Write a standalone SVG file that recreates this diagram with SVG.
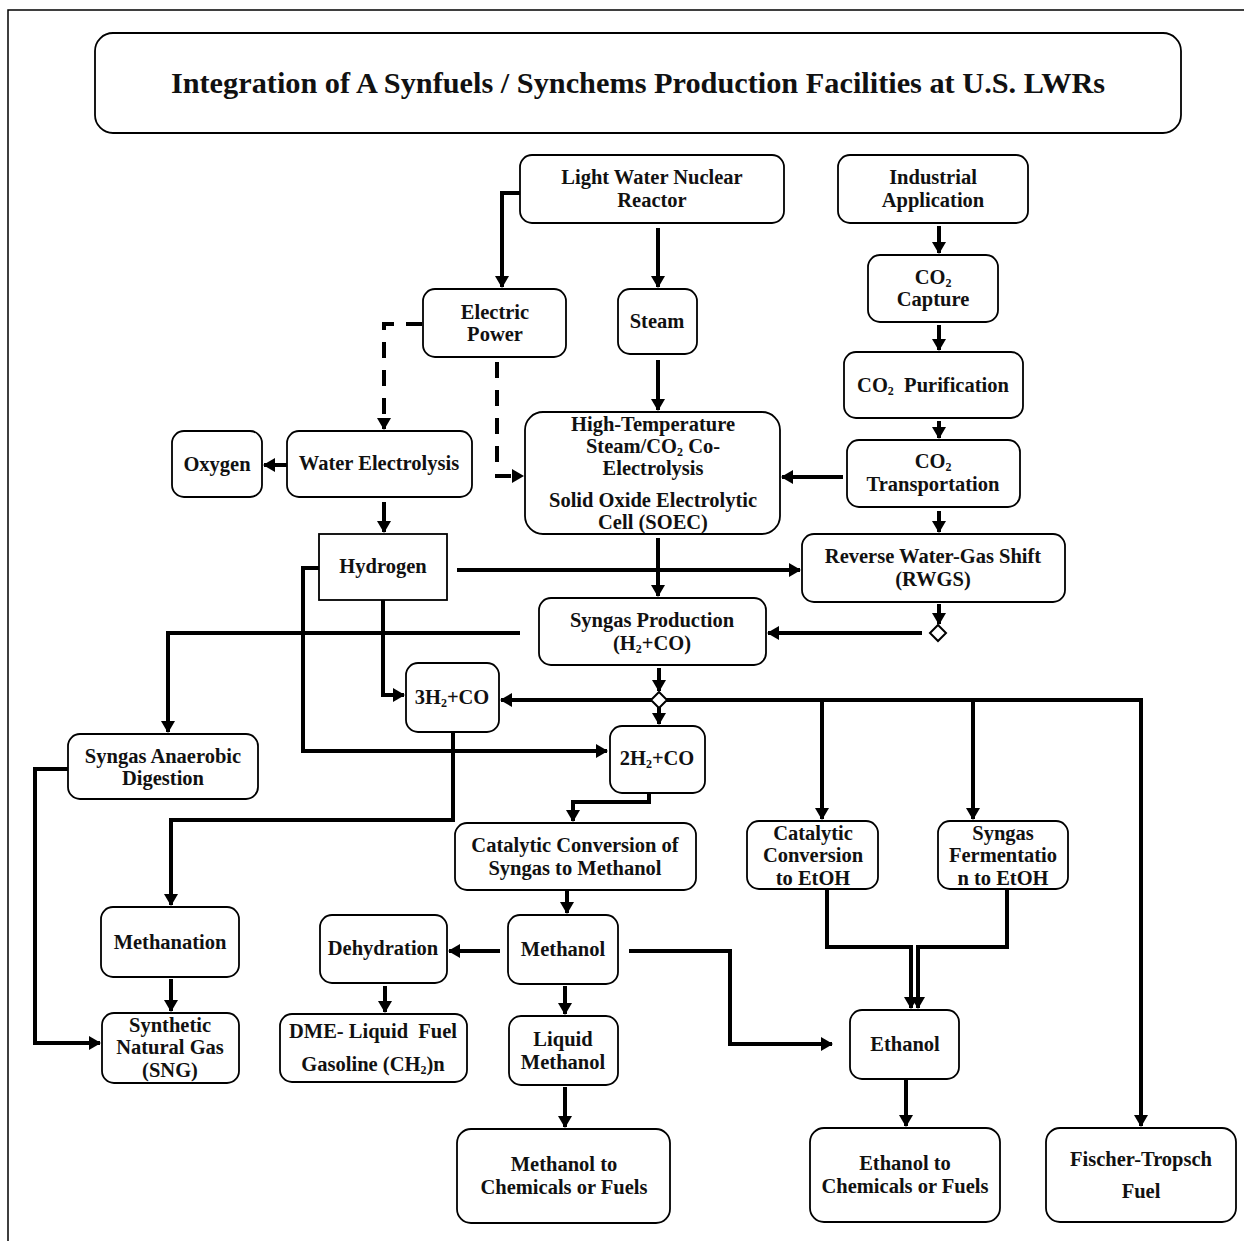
<svg xmlns="http://www.w3.org/2000/svg" width="1244" height="1241" viewBox="0 0 1244 1241">
<style>
.b{fill:#fff;stroke:#000;stroke-width:1.8}
.t{font-family:"Liberation Serif","Times New Roman",serif;font-weight:bold;font-size:20.5px;text-anchor:middle;fill:#111}
.s{font-size:12px}
.c{fill:none;stroke:#000;stroke-width:4;marker-end:url(#ah)}
.n{fill:none;stroke:#000;stroke-width:4}
.d{fill:none;stroke:#000;stroke-width:4;stroke-dasharray:16,12;marker-end:url(#ah)}
</style>
<defs>
<marker id="ah" viewBox="0 0 12 14" refX="11" refY="7" markerWidth="12" markerHeight="14" orient="auto" markerUnits="userSpaceOnUse">
<path d="M0,0 L12,7 L0,14 z" fill="#000"/>
</marker>
</defs>
<rect width="1244" height="1241" fill="#fff"/>
<path d="M8,1241 V10 H1244" fill="none" stroke="#000" stroke-width="1.5"/>

<g id="title"><rect class="b" x="95" y="33" width="1086" height="100" rx="18"/>
<text class="t" x="638" y="93" style="font-size:30.3px">Integration of A Synfuels / Synchems Production Facilities at U.S. LWRs</text></g>

<g id="connectors">
<path class="c" d="M520,193 H502 V287"/>
<path class="c" d="M658,228 V287"/>
<path class="c" d="M658,360 V410"/>
<path class="c" d="M939,226 V253"/>
<path class="c" d="M939,325 V350"/>
<path class="c" d="M939,421 V438"/>
<path class="c" d="M939,511 V532"/>
<path class="c" d="M843,477 H782"/>
<path class="d" d="M422,324 H384 V429"/>
<path class="d" d="M497,362 V476 H523"/>
<path class="c" d="M287,465 H264"/>
<path class="c" d="M384,502 V532"/>
<path class="c" d="M457,570 H800"/>
<path class="c" d="M658,538 V596"/>
<path class="c" d="M939,604 V624"/>
<path class="c" d="M922,633 H768"/>
<path class="c" d="M520,633 H168 V732"/>
<path class="c" d="M68,769 H35 V1043 H100"/>
<path class="c" d="M383,600 V695 H404"/>
<path class="c" d="M319,568 H303 V751 H607"/>
<path class="c" d="M659,668 V691"/>
<path class="c" d="M652,700 H501"/>
<path class="c" d="M659,707 V724"/>
<path class="c" d="M666,700 H1141 V1126"/>
<path class="c" d="M822,700 V819"/>
<path class="c" d="M973,700 V819"/>
<path class="c" d="M453,732 V820 H171 V905"/>
<path class="c" d="M649,793 V802 H573 V821"/>
<path class="c" d="M567,890 V913"/>
<path class="c" d="M500,951 H449"/>
<path class="c" d="M565,986 V1014"/>
<path class="c" d="M565,1087 V1127"/>
<path class="c" d="M171,979 V1011"/>
<path class="c" d="M385,986 V1012"/>
<path class="c" d="M629,951 H730 V1044 H832"/>
<path class="c" d="M827,889 V947 H911 V1008"/>
<path class="c" d="M1007,889 V947 H918 V1008"/>
<path class="c" d="M906,1080 V1126"/>
<polygon points="938,625 946,633 938,641 930,633" fill="#fff" stroke="#000" stroke-width="2"/>
<polygon points="659,692 667,700 659,708 651,700" fill="#fff" stroke="#000" stroke-width="2"/>
</g>

<g id="lwnr"><rect class="b" x="520" y="155" width="264" height="68" rx="12"/>
<text class="t" x="652" y="184">Light Water Nuclear</text><text class="t" x="652" y="207">Reactor</text></g>

<g id="industrial"><rect class="b" x="838" y="155" width="190" height="68" rx="12"/>
<text class="t" x="933" y="184">Industrial</text><text class="t" x="933" y="207">Application</text></g>

<g id="electric"><rect class="b" x="423" y="289" width="143" height="68" rx="12"/>
<text class="t" x="495" y="319">Electric</text><text class="t" x="495" y="341">Power</text></g>

<g id="steam"><rect class="b" x="618" y="289" width="79" height="65" rx="12"/>
<text class="t" x="657" y="328">Steam</text></g>

<g id="co2capture"><rect class="b" x="868" y="255" width="130" height="67" rx="12"/>
<text class="t" x="933" y="284">CO<tspan class="s" dy="2.5">2</tspan></text><text class="t" x="933" y="306">Capture</text></g>

<g id="co2purification"><rect class="b" x="844" y="352" width="179" height="66" rx="12"/>
<text class="t" x="933" y="392">CO<tspan class="s" dy="3">2</tspan><tspan dy="-3" xml:space="preserve">  Purification</tspan></text></g>

<g id="co2transport"><rect class="b" x="847" y="440" width="173" height="67" rx="12"/>
<text class="t" x="933" y="468">CO<tspan class="s" dy="2.5">2</tspan></text><text class="t" x="933" y="491">Transportation</text></g>

<g id="oxygen"><rect class="b" x="172" y="431" width="90" height="66" rx="12"/>
<text class="t" x="217" y="471">Oxygen</text></g>

<g id="waterelectrolysis"><rect class="b" x="287" y="431" width="185" height="66" rx="12"/>
<text class="t" x="379" y="470">Water Electrolysis</text></g>

<g id="soec"><rect class="b" x="525" y="412" width="255" height="122" rx="18"/>
<text class="t" x="653" y="431">High-Temperature</text>
<text class="t" x="653" y="453">Steam/CO<tspan class="s" dy="2.5">2</tspan><tspan dy="-2.5"> Co-</tspan></text>
<text class="t" x="653" y="475">Electrolysis</text>
<text class="t" x="653" y="507">Solid Oxide Electrolytic</text>
<text class="t" x="653" y="529">Cell (SOEC)</text></g>

<g id="hydrogen"><rect x="319" y="534" width="128" height="66" fill="#fff" stroke="#000" stroke-width="1.8"/>
<text class="t" x="383" y="573">Hydrogen</text></g>

<g id="rwgs"><rect class="b" x="802" y="534" width="263" height="68" rx="12"/>
<text class="t" x="933" y="563">Reverse Water-Gas Shift</text><text class="t" x="933" y="586">(RWGS)</text></g>

<g id="syngas"><rect class="b" x="539" y="598" width="227" height="67" rx="12"/>
<text class="t" x="652" y="627">Syngas Production</text><text class="t" x="652" y="650">(H<tspan class="s" dy="3">2</tspan><tspan dy="-3">+CO)</tspan></text></g>

<g id="h3co"><rect class="b" x="406" y="663" width="93" height="69" rx="12"/>
<text class="t" x="452" y="704">3H<tspan class="s" dy="3">2</tspan><tspan dy="-3">+CO</tspan></text></g>

<g id="anaerobic"><rect class="b" x="68" y="734" width="190" height="65" rx="12"/>
<text class="t" x="163" y="763">Syngas Anaerobic</text><text class="t" x="163" y="785">Digestion</text></g>

<g id="h2co"><rect class="b" x="610" y="726" width="95" height="67" rx="12"/>
<text class="t" x="657" y="765">2H<tspan class="s" dy="3">2</tspan><tspan dy="-3">+CO</tspan></text></g>

<g id="ccsm"><rect class="b" x="455" y="823" width="241" height="67" rx="12"/>
<text class="t" x="575" y="852">Catalytic Conversion of</text><text class="t" x="575" y="875">Syngas to Methanol</text></g>

<g id="ccetoh"><rect class="b" x="747" y="821" width="131" height="68" rx="12"/>
<text class="t" x="813" y="840">Catalytic</text><text class="t" x="813" y="862">Conversion</text><text class="t" x="813" y="885">to EtOH</text></g>

<g id="sfetoh"><rect class="b" x="938" y="821" width="130" height="68" rx="12"/>
<text class="t" x="1003" y="840">Syngas</text><text class="t" x="1003" y="862">Fermentatio</text><text class="t" x="1003" y="885">n to EtOH</text></g>

<g id="methanation"><rect class="b" x="101" y="907" width="138" height="70" rx="12"/>
<text class="t" x="170" y="949">Methanation</text></g>

<g id="dehydration"><rect class="b" x="320" y="915" width="127" height="68" rx="12"/>
<text class="t" x="383" y="955">Dehydration</text></g>

<g id="methanol"><rect class="b" x="508" y="915" width="110" height="69" rx="12"/>
<text class="t" x="563" y="956">Methanol</text></g>

<g id="sng"><rect class="b" x="102" y="1013" width="137" height="70" rx="12"/>
<text class="t" x="170" y="1032">Synthetic</text><text class="t" x="170" y="1054">Natural Gas</text><text class="t" x="170" y="1077">(SNG)</text></g>

<g id="dme"><rect class="b" x="280" y="1014" width="187" height="68" rx="12"/>
<text class="t" x="373" y="1038" xml:space="preserve">DME- Liquid  Fuel</text><text class="t" x="373" y="1071">Gasoline (CH<tspan class="s" dy="3">2</tspan><tspan dy="-3">)n</tspan></text></g>

<g id="liquidmethanol"><rect class="b" x="509" y="1016" width="109" height="69" rx="12"/>
<text class="t" x="563" y="1046">Liquid</text><text class="t" x="563" y="1069">Methanol</text></g>

<g id="ethanol"><rect class="b" x="850" y="1010" width="109" height="69" rx="12"/>
<text class="t" x="905" y="1051">Ethanol</text></g>

<g id="methanolchem"><rect class="b" x="457" y="1129" width="213" height="94" rx="14"/>
<text class="t" x="564" y="1171">Methanol to</text><text class="t" x="564" y="1194">Chemicals or Fuels</text></g>

<g id="ethanolchem"><rect class="b" x="810" y="1128" width="190" height="94" rx="14"/>
<text class="t" x="905" y="1170">Ethanol to</text><text class="t" x="905" y="1193">Chemicals or Fuels</text></g>

<g id="fischer"><rect class="b" x="1046" y="1128" width="190" height="94" rx="14"/>
<text class="t" x="1141" y="1166">Fischer-Tropsch</text><text class="t" x="1141" y="1198">Fuel</text></g>
</svg>
